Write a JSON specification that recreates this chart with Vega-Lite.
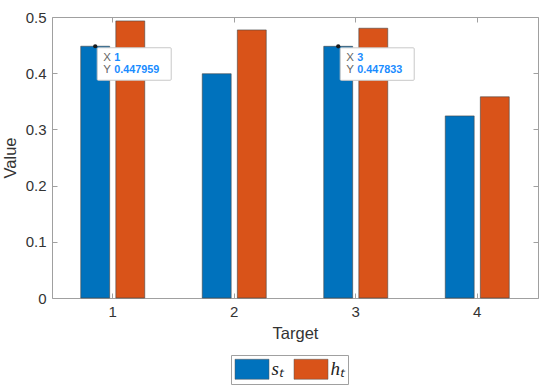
{
  "$schema": "https://vega.github.io/schema/vega-lite/v6.json",
  "width": 486,
  "height": 281,
  "autosize": {"type": "none"},
  "padding": {"left": 52, "top": 17, "right": 12, "bottom": 93},
  "background": "white",
  "config": {
    "view": {"stroke": null},
    "font": "Liberation Sans",
    "axis": {
      "grid": false,
      "domainColor": "#a0a0a0",
      "tickColor": "#a0a0a0",
      "labelColor": "#333333",
      "titleColor": "#333333",
      "labelFont": "Liberation Sans",
      "titleFont": "Liberation Sans",
      "labelFontSize": 15,
      "titleFontSize": 16.5,
      "titleFontWeight": "normal",
      "tickSize": -5,
      "labelPadding": 11
    }
  },
  "datasets": {
    "bars": [
      {"Target": "1", "series": "sₜ", "value": 0.447959},
      {"Target": "1", "series": "hₜ", "value": 0.493},
      {"Target": "2", "series": "sₜ", "value": 0.399},
      {"Target": "2", "series": "hₜ", "value": 0.477},
      {"Target": "3", "series": "sₜ", "value": 0.447833},
      {"Target": "3", "series": "hₜ", "value": 0.480},
      {"Target": "4", "series": "sₜ", "value": 0.324},
      {"Target": "4", "series": "hₜ", "value": 0.358}
    ],
    "tips": [
      {"Target": "1", "series": "sₜ", "value": 0.447959, "xtext": "1", "ytext": "0.447959"},
      {"Target": "3", "series": "sₜ", "value": 0.447833, "xtext": "3", "ytext": "0.447833"}
    ]
  },
  "resolve": {"axis": {"x": "independent", "y": "independent"}},
  "layer": [
    {
      "data": {"name": "bars"},
      "mark": {"type": "bar", "stroke": "#444444", "strokeWidth": 0.6, "opacity": 1},
      "encoding": {
        "x": {"field": "Target", "type": "ordinal", "sort": ["1", "2", "3", "4"],
          "scale": {"paddingInner": 0, "paddingOuter": 0},
          "axis": {"labelAngle": 0, "title": "Target", "titlePadding": 6, "domain": true}},
        "xOffset": {"field": "series", "type": "nominal", "sort": ["sₜ", "hₜ"],
          "scale": {"domain": ["sₜ", "hₜ"], "paddingInner": 0.176, "paddingOuter": 0.82}},
        "y": {"field": "value", "type": "quantitative",
          "scale": {"domain": [0, 0.5], "nice": false, "zero": true},
          "axis": {"values": [0, 0.1, 0.2, 0.3, 0.4, 0.5], "format": ".1~f", "title": "Value", "titlePadding": 7}},
        "color": {"field": "series", "type": "nominal",
          "scale": {"domain": ["sₜ", "hₜ"], "range": ["#0072BD", "#D95319"]},
          "legend": {
            "title": null,
            "orient": "none",
            "legendX": 179,
            "legendY": 338,
            "direction": "horizontal",
            "strokeColor": "#a0a0a0",
            "fillColor": "white",
            "padding": 3.5,
            "symbolType": "M-1,-1 H2.4 V1 H-1 Z",
            "symbolSize": 400,
            "symbolStrokeColor": "#555555",
            "symbolStrokeWidth": 0.5,
            "symbolOpacity": 1,
            "labelFont": "Liberation Serif",
            "labelFontStyle": "italic",
            "labelFontSize": 19,
            "labelColor": "#222222",
            "labelOffset": 16,
            "columnPadding": 9
          }}
      }
    },
    {
      "data": {"name": "bars"},
      "mark": {"type": "bar", "opacity": 0},
      "encoding": {
        "x": {"field": "Target", "type": "ordinal", "sort": ["1", "2", "3", "4"],
          "axis": {"orient": "top", "labels": false, "title": null}},
        "xOffset": {"field": "series", "type": "nominal", "sort": ["sₜ", "hₜ"]},
        "y": {"field": "value", "type": "quantitative",
          "axis": {"orient": "right", "labels": false, "title": null, "values": [0, 0.1, 0.2, 0.3, 0.4, 0.5]}}
      }
    },
    {
      "data": {"name": "tips"},
      "mark": {"type": "point", "shape": "M3,1.5 H75 Q76,1.5 76,2.5 V33 Q76,34 75,34 H3 Q2,34 2,33 V2.5 Q2,1.5 3,1.5 Z", "size": 4, "filled": true, "fill": "white", "stroke": "#c8c8c8", "strokeWidth": 1, "opacity": 1},
      "encoding": {
        "x": {"field": "Target", "type": "ordinal", "sort": ["1", "2", "3", "4"], "axis": null},
        "xOffset": {"field": "series", "type": "nominal", "sort": ["sₜ", "hₜ"]},
        "y": {"field": "value", "type": "quantitative", "axis": null}
      }
    },
    {
      "data": {"name": "tips"},
      "mark": {"type": "point", "shape": "circle", "size": 18, "filled": true, "fill": "#1a1a1a", "opacity": 1},
      "encoding": {
        "x": {"field": "Target", "type": "ordinal", "sort": ["1", "2", "3", "4"], "axis": null},
        "xOffset": {"field": "series", "type": "nominal", "sort": ["sₜ", "hₜ"]},
        "y": {"field": "value", "type": "quantitative", "axis": null}
      }
    },
    {
      "data": {"name": "tips"},
      "mark": {"type": "text", "text": "X", "align": "left", "baseline": "middle", "dx": 8, "dy": 11.5, "fontSize": 11.5, "color": "#666666", "font": "Liberation Sans"},
      "encoding": {
        "x": {"field": "Target", "type": "ordinal", "sort": ["1", "2", "3", "4"], "axis": null},
        "xOffset": {"field": "series", "type": "nominal", "sort": ["sₜ", "hₜ"]},
        "y": {"field": "value", "type": "quantitative", "axis": null}
      }
    },
    {
      "data": {"name": "tips"},
      "mark": {"type": "text", "text": "Y", "align": "left", "baseline": "middle", "dx": 8, "dy": 24, "fontSize": 11.5, "color": "#666666", "font": "Liberation Sans"},
      "encoding": {
        "x": {"field": "Target", "type": "ordinal", "sort": ["1", "2", "3", "4"], "axis": null},
        "xOffset": {"field": "series", "type": "nominal", "sort": ["sₜ", "hₜ"]},
        "y": {"field": "value", "type": "quantitative", "axis": null}
      }
    },
    {
      "data": {"name": "tips"},
      "mark": {"type": "text", "align": "left", "baseline": "middle", "dx": 19, "dy": 11.5, "fontSize": 10.8, "fontWeight": "bold", "color": "#1a8cff", "font": "Liberation Sans"},
      "encoding": {
        "x": {"field": "Target", "type": "ordinal", "sort": ["1", "2", "3", "4"], "axis": null},
        "xOffset": {"field": "series", "type": "nominal", "sort": ["sₜ", "hₜ"]},
        "y": {"field": "value", "type": "quantitative", "axis": null},
        "text": {"field": "xtext"}
      }
    },
    {
      "data": {"name": "tips"},
      "mark": {"type": "text", "align": "left", "baseline": "middle", "dx": 19, "dy": 24, "fontSize": 10.8, "fontWeight": "bold", "color": "#1a8cff", "font": "Liberation Sans"},
      "encoding": {
        "x": {"field": "Target", "type": "ordinal", "sort": ["1", "2", "3", "4"], "axis": null},
        "xOffset": {"field": "series", "type": "nominal", "sort": ["sₜ", "hₜ"]},
        "y": {"field": "value", "type": "quantitative", "axis": null},
        "text": {"field": "ytext"}
      }
    }
  ]
}
